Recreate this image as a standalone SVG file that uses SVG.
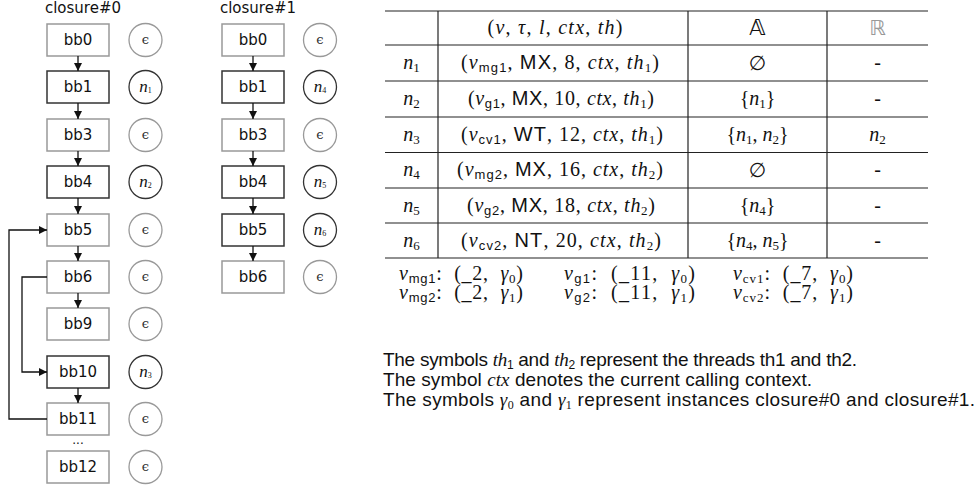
<svg xmlns="http://www.w3.org/2000/svg" width="979" height="488" viewBox="0 0 979 488">
<style>
.bb{fill:#fff;stroke-width:1.5}
.g{stroke:#999}
.k{stroke:#333}
.bt{font-family:"DejaVu Sans",Verdana,sans-serif;font-size:15px;text-anchor:middle;fill:#111}
.cl{fill:#fff;stroke-width:1.3}
.eps{font-family:"DejaVu Serif","Liberation Serif",serif;font-size:13px;text-anchor:middle;fill:#333}
.nl{font-family:"Liberation Serif",serif;font-style:italic;font-size:17px;text-anchor:middle;fill:#111}
.edge{fill:none;stroke:#111;stroke-width:1.3}
.title{font-family:"DejaVu Sans",Verdana,sans-serif;font-size:15px;text-anchor:middle;fill:#111}
.tl{stroke:#222;stroke-width:1.2}
.tt{font-family:"Liberation Serif",serif;font-size:20px;text-anchor:middle;fill:#111}
.i{font-style:italic}
.s{font-family:"Liberation Sans",Arial,sans-serif}
.ds{font-family:"DejaVu Sans",sans-serif}
.lg{font-family:"Liberation Serif",serif;font-size:20px;fill:#111}
.nt{font-family:"Liberation Sans",Arial,sans-serif;font-size:19px;fill:#111}
.ser{font-family:"Liberation Serif",serif}
</style>
<defs>
<marker id="ah" viewBox="0 0 10 10" refX="10" refY="5" markerWidth="8" markerHeight="8" markerUnits="userSpaceOnUse" orient="auto"><path d="M0,0 L10,5 L0,10 z" fill="#111"/></marker>
</defs>

<text class="title" x="83" y="13">closure#0</text>
<text class="title" x="258" y="13">closure#1</text>

<g id="c0-bb0"><rect class="bb g" x="47" y="24" width="62" height="32"/><text class="bt" x="78" y="45">bb0</text></g>
<g id="c0-bb1"><rect class="bb k" x="47" y="71" width="62" height="32"/><text class="bt" x="78" y="92">bb1</text></g>
<g id="c0-bb3"><rect class="bb g" x="47" y="119" width="62" height="32"/><text class="bt" x="78" y="140">bb3</text></g>
<g id="c0-bb4"><rect class="bb k" x="47" y="166" width="62" height="32"/><text class="bt" x="78" y="187">bb4</text></g>
<g id="c0-bb5"><rect class="bb g" x="47" y="214" width="62" height="32"/><text class="bt" x="78" y="235">bb5</text></g>
<g id="c0-bb6"><rect class="bb g" x="47" y="261" width="62" height="32"/><text class="bt" x="78" y="282">bb6</text></g>
<g id="c0-bb9"><rect class="bb g" x="47" y="308" width="62" height="32"/><text class="bt" x="78" y="329">bb9</text></g>
<g id="c0-bb10"><rect class="bb k" x="47" y="356" width="62" height="32"/><text class="bt" x="78" y="377">bb10</text></g>
<g id="c0-bb11"><rect class="bb g" x="47" y="403" width="62" height="32"/><text class="bt" x="78" y="424">bb11</text></g>
<g id="c0-bb12"><rect class="bb g" x="47" y="451" width="62" height="32"/><text class="bt" x="78" y="472">bb12</text></g>
<text class="bt" x="78" y="444" style="font-size:12px">...</text>

<g id="c0-s0"><circle class="cl g" cx="145.5" cy="40" r="16.5"/><text class="eps" x="145.5" y="44">ϵ</text></g>
<g id="c0-s1"><circle class="cl k" cx="145.5" cy="87" r="16.5"/><text class="nl" x="145.5" y="92">n<tspan font-size="8" font-style="normal" dy="1">1</tspan></text></g>
<g id="c0-s3"><circle class="cl g" cx="145.5" cy="135" r="16.5"/><text class="eps" x="145.5" y="139">ϵ</text></g>
<g id="c0-s4"><circle class="cl k" cx="145.5" cy="182" r="16.5"/><text class="nl" x="145.5" y="187">n<tspan font-size="8" font-style="normal" dy="1">2</tspan></text></g>
<g id="c0-s5"><circle class="cl g" cx="145.5" cy="230" r="16.5"/><text class="eps" x="145.5" y="234">ϵ</text></g>
<g id="c0-s6"><circle class="cl g" cx="145.5" cy="277" r="16.5"/><text class="eps" x="145.5" y="281">ϵ</text></g>
<g id="c0-s9"><circle class="cl g" cx="145.5" cy="324" r="16.5"/><text class="eps" x="145.5" y="328">ϵ</text></g>
<g id="c0-s10"><circle class="cl k" cx="145.5" cy="372" r="16.5"/><text class="nl" x="145.5" y="377">n<tspan font-size="8" font-style="normal" dy="1">3</tspan></text></g>
<g id="c0-s11"><circle class="cl g" cx="145.5" cy="419" r="16.5"/><text class="eps" x="145.5" y="423">ϵ</text></g>
<g id="c0-s12"><circle class="cl g" cx="145.5" cy="467" r="16.5"/><text class="eps" x="145.5" y="471">ϵ</text></g>

<g id="c1-bb0"><rect class="bb g" x="222" y="24" width="62" height="32"/><text class="bt" x="253" y="45">bb0</text></g>
<g id="c1-bb1"><rect class="bb k" x="222" y="71" width="62" height="32"/><text class="bt" x="253" y="92">bb1</text></g>
<g id="c1-bb3"><rect class="bb g" x="222" y="119" width="62" height="32"/><text class="bt" x="253" y="140">bb3</text></g>
<g id="c1-bb4"><rect class="bb k" x="222" y="166" width="62" height="32"/><text class="bt" x="253" y="187">bb4</text></g>
<g id="c1-bb5"><rect class="bb k" x="222" y="214" width="62" height="32"/><text class="bt" x="253" y="235">bb5</text></g>
<g id="c1-bb6"><rect class="bb g" x="222" y="261" width="62" height="32"/><text class="bt" x="253" y="282">bb6</text></g>

<g id="c1-s0"><circle class="cl g" cx="320" cy="40" r="16.5"/><text class="eps" x="320" y="44">ϵ</text></g>
<g id="c1-s1"><circle class="cl k" cx="320" cy="87" r="16.5"/><text class="nl" x="320" y="92">n<tspan font-size="8" font-style="normal" dy="1">4</tspan></text></g>
<g id="c1-s3"><circle class="cl g" cx="320" cy="135" r="16.5"/><text class="eps" x="320" y="139">ϵ</text></g>
<g id="c1-s4"><circle class="cl k" cx="320" cy="182" r="16.5"/><text class="nl" x="320" y="187">n<tspan font-size="8" font-style="normal" dy="1">5</tspan></text></g>
<g id="c1-s5"><circle class="cl k" cx="320" cy="230" r="16.5"/><text class="nl" x="320" y="235">n<tspan font-size="8" font-style="normal" dy="1">6</tspan></text></g>
<g id="c1-s6"><circle class="cl g" cx="320" cy="277" r="16.5"/><text class="eps" x="320" y="281">ϵ</text></g>

<g id="edges">
<path class="edge" marker-end="url(#ah)" d="M78,56 V71"/>
<path class="edge" marker-end="url(#ah)" d="M78,103 V119"/>
<path class="edge" marker-end="url(#ah)" d="M78,151 V166"/>
<path class="edge" marker-end="url(#ah)" d="M78,198 V214"/>
<path class="edge" marker-end="url(#ah)" d="M78,246 V261"/>
<path class="edge" marker-end="url(#ah)" d="M78,293 V308"/>
<path class="edge" marker-end="url(#ah)" d="M78,388 V403"/>
<path class="edge" marker-end="url(#ah)" d="M47,419 H9 V230 H47"/>
<path class="edge" marker-end="url(#ah)" d="M47,277 H22 V372 H47"/>
<path class="edge" marker-end="url(#ah)" d="M253,56 V71"/>
<path class="edge" marker-end="url(#ah)" d="M253,103 V119"/>
<path class="edge" marker-end="url(#ah)" d="M253,151 V166"/>
<path class="edge" marker-end="url(#ah)" d="M253,198 V214"/>
<path class="edge" marker-end="url(#ah)" d="M253,246 V261"/>
</g>

<g id="table">
<line class="tl" x1="385" y1="11" x2="928" y2="11"/>
<line class="tl" x1="385" y1="45" x2="928" y2="45"/>
<line class="tl" x1="385" y1="81" x2="928" y2="81"/>
<line class="tl" x1="385" y1="117" x2="928" y2="117"/>
<line class="tl" x1="385" y1="152.5" x2="928" y2="152.5"/>
<line class="tl" x1="385" y1="188" x2="928" y2="188"/>
<line class="tl" x1="385" y1="223" x2="928" y2="223"/>
<line class="tl" x1="385" y1="258" x2="928" y2="258"/>
<line class="tl" x1="438" y1="11" x2="438" y2="258"/>
<line class="tl" x1="688" y1="11" x2="688" y2="258"/>
<line class="tl" x1="827" y1="11" x2="827" y2="258"/>

<text class="tt" x="555" y="34" textLength="135" lengthAdjust="spacing">(<tspan class="i">v</tspan>, <tspan class="i">τ</tspan>, <tspan class="i">l</tspan>, <tspan class="i">ctx</tspan>, <tspan class="i">th</tspan>)</text>
<text class="tt ds" x="757.5" y="35" style="font-size:22px">𝔸</text>
<text class="tt ds" x="877.5" y="35" style="fill:#999;font-size:21px">ℝ</text>

<text class="tt" x="411.5" y="69"><tspan class="i">n</tspan><tspan font-size="13" dy="3">1</tspan></text>
<text class="tt" x="560" y="69" textLength="198" lengthAdjust="spacing">(<tspan class="i">v</tspan><tspan class="s" font-size="13" dy="3">mg1</tspan><tspan dy="-3">, </tspan><tspan class="s">MX</tspan>, 8, <tspan class="i">ctx</tspan>, <tspan class="i">th</tspan><tspan font-size="13" dy="3">1</tspan><tspan dy="-3">)</tspan></text>
<text class="tt ds" x="757.5" y="70">∅</text>
<text class="tt" x="877.5" y="69">-</text>

<text class="tt" x="411.5" y="105"><tspan class="i">n</tspan><tspan font-size="13" dy="3">2</tspan></text>
<text class="tt" x="561" y="105" textLength="186" lengthAdjust="spacing">(<tspan class="i">v</tspan><tspan class="s" font-size="13" dy="3">g1</tspan><tspan dy="-3">, </tspan><tspan class="s">MX</tspan>, 10, <tspan class="i">ctx</tspan>, <tspan class="i">th</tspan><tspan font-size="13" dy="3">1</tspan><tspan dy="-3">)</tspan></text>
<text class="tt" x="757.5" y="105">{<tspan class="i">n</tspan><tspan font-size="13" dy="3">1</tspan><tspan dy="-3">}</tspan></text>
<text class="tt" x="877.5" y="105">-</text>

<text class="tt" x="411.5" y="141"><tspan class="i">n</tspan><tspan font-size="13" dy="3">3</tspan></text>
<text class="tt" x="562" y="141" textLength="202" lengthAdjust="spacing">(<tspan class="i">v</tspan><tspan class="s" font-size="13" dy="3">cv1</tspan><tspan dy="-3">, </tspan><tspan class="s">WT</tspan>, 12, <tspan class="i">ctx</tspan>, <tspan class="i">th</tspan><tspan font-size="13" dy="3">1</tspan><tspan dy="-3">)</tspan></text>
<text class="tt" x="757.5" y="141">{<tspan class="i">n</tspan><tspan font-size="13" dy="3">1</tspan><tspan dy="-3">, </tspan><tspan class="i">n</tspan><tspan font-size="13" dy="3">2</tspan><tspan dy="-3">}</tspan></text>
<text class="tt" x="877.5" y="141"><tspan class="i">n</tspan><tspan font-size="13" dy="3">2</tspan></text>

<text class="tt" x="411.5" y="176"><tspan class="i">n</tspan><tspan font-size="13" dy="3">4</tspan></text>
<text class="tt" x="560" y="176" textLength="206" lengthAdjust="spacing">(<tspan class="i">v</tspan><tspan class="s" font-size="13" dy="3">mg2</tspan><tspan dy="-3">, </tspan><tspan class="s">MX</tspan>, 16, <tspan class="i">ctx</tspan>, <tspan class="i">th</tspan><tspan font-size="13" dy="3">2</tspan><tspan dy="-3">)</tspan></text>
<text class="tt ds" x="757.5" y="177">∅</text>
<text class="tt" x="877.5" y="176">-</text>

<text class="tt" x="411.5" y="211.5"><tspan class="i">n</tspan><tspan font-size="13" dy="3">5</tspan></text>
<text class="tt" x="561" y="211.5" textLength="188" lengthAdjust="spacing">(<tspan class="i">v</tspan><tspan class="s" font-size="13" dy="3">g2</tspan><tspan dy="-3">, </tspan><tspan class="s">MX</tspan>, 18, <tspan class="i">ctx</tspan>, <tspan class="i">th</tspan><tspan font-size="13" dy="3">2</tspan><tspan dy="-3">)</tspan></text>
<text class="tt" x="757.5" y="211.5">{<tspan class="i">n</tspan><tspan font-size="13" dy="3">4</tspan><tspan dy="-3">}</tspan></text>
<text class="tt" x="877.5" y="211.5">-</text>

<text class="tt" x="411.5" y="246.5"><tspan class="i">n</tspan><tspan font-size="13" dy="3">6</tspan></text>
<text class="tt" x="561" y="246.5" textLength="200" lengthAdjust="spacing">(<tspan class="i">v</tspan><tspan class="s" font-size="13" dy="3">cv2</tspan><tspan dy="-3">, </tspan><tspan class="s">NT</tspan>, 20, <tspan class="i">ctx</tspan>, <tspan class="i">th</tspan><tspan font-size="13" dy="3">2</tspan><tspan dy="-3">)</tspan></text>
<text class="tt" x="757.5" y="246.5">{<tspan class="i">n</tspan><tspan font-size="13" dy="3">4</tspan><tspan dy="-3">, </tspan><tspan class="i">n</tspan><tspan font-size="13" dy="3">5</tspan><tspan dy="-3">}</tspan></text>
<text class="tt" x="877.5" y="246.5">-</text>
</g>

<g id="legend">
<text class="lg" x="399" y="280" textLength="124" lengthAdjust="spacing"><tspan class="i">v</tspan><tspan class="s" font-size="13" dy="3">mg1</tspan><tspan dy="-3">:&#160;&#160;(_2,&#160;&#160;</tspan><tspan class="i">γ</tspan><tspan font-size="13" dy="3">0</tspan><tspan dy="-3">)</tspan></text>
<text class="lg" x="564" y="280" textLength="131" lengthAdjust="spacing"><tspan class="i">v</tspan><tspan class="s" font-size="13" dy="3">g1</tspan><tspan dy="-3">:&#160;&#160;(_11,&#160;&#160;</tspan><tspan class="i">γ</tspan><tspan font-size="13" dy="3">0</tspan><tspan dy="-3">)</tspan></text>
<text class="lg" x="733" y="280" textLength="120" lengthAdjust="spacing"><tspan class="i">v</tspan><tspan font-size="13" dy="3">cv1</tspan><tspan dy="-3">:&#160;&#160;(_7,&#160;&#160;</tspan><tspan class="i">γ</tspan><tspan font-size="13" dy="3">0</tspan><tspan dy="-3">)</tspan></text>
<text class="lg" x="399" y="299" textLength="124" lengthAdjust="spacing"><tspan class="i">v</tspan><tspan class="s" font-size="13" dy="3">mg2</tspan><tspan dy="-3">:&#160;&#160;(_2,&#160;&#160;</tspan><tspan class="i">γ</tspan><tspan font-size="13" dy="3">1</tspan><tspan dy="-3">)</tspan></text>
<text class="lg" x="564" y="299" textLength="131" lengthAdjust="spacing"><tspan class="i">v</tspan><tspan class="s" font-size="13" dy="3">g2</tspan><tspan dy="-3">:&#160;&#160;(_11,&#160;&#160;</tspan><tspan class="i">γ</tspan><tspan font-size="13" dy="3">1</tspan><tspan dy="-3">)</tspan></text>
<text class="lg" x="733" y="299" textLength="120" lengthAdjust="spacing"><tspan class="i">v</tspan><tspan font-size="13" dy="3">cv2</tspan><tspan dy="-3">:&#160;&#160;(_7,&#160;&#160;</tspan><tspan class="i">γ</tspan><tspan font-size="13" dy="3">1</tspan><tspan dy="-3">)</tspan></text>
</g>

<g id="notes">
<text class="nt" x="383" y="366" textLength="474" lengthAdjust="spacing">The symbols <tspan class="ser i">th</tspan><tspan font-size="12" dy="3">1</tspan><tspan dy="-3"> and </tspan><tspan class="ser i">th</tspan><tspan font-size="12" dy="3">2</tspan><tspan dy="-3"> represent the threads th1 and th2.</tspan></text>
<text class="nt" x="383" y="386" textLength="429" lengthAdjust="spacing">The symbol <tspan class="ser i">ctx</tspan> denotes the current calling context.</text>
<text class="nt" x="383" y="406" textLength="592" lengthAdjust="spacing">The symbols <tspan class="ser i">γ</tspan><tspan class="ser" font-size="12" dy="3">0</tspan><tspan dy="-3"> and </tspan><tspan class="ser i">γ</tspan><tspan class="ser" font-size="12" dy="3">1</tspan><tspan dy="-3"> represent instances closure#0 and closure#1.</tspan></text>
</g>
</svg>
